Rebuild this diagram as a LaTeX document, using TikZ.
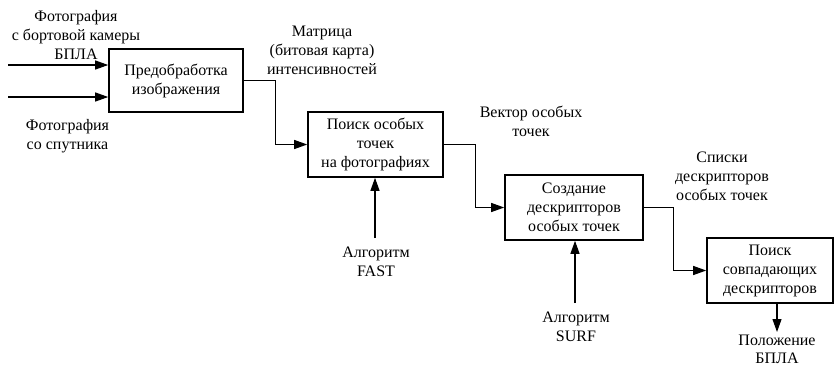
\documentclass[tikz,border=0pt]{standalone}
\usepackage{fontspec}
\setmainfont{Liberation Serif}
\usetikzlibrary{arrows.meta}
\begin{document}
\begin{tikzpicture}[x=1pt,y=-1pt,
  blk/.style={draw,line width=1.6pt,minimum height=65pt,align=center,inner sep=2pt,font=\fontsize{16}{19}\selectfont},
  lbl/.style={align=center,inner sep=0pt,font=\fontsize{16}{19}\selectfont},
  arr/.style={line width=1.1pt,-{Triangle[length=13pt,width=9pt]}},
  ln/.style={line width=1.1pt}]
\useasboundingbox (0,0) rectangle (837,365);
\node[blk,minimum width=134pt,minimum height=63pt] (b1) at (176,80.5) {Предобработка\\изображения};
\node[blk,minimum width=135pt] (b2) at (375.5,144.5) {Поиск особых\\точек\\на фотографиях};
\node[blk,minimum width=138pt] (b3) at (574,207.5) {Создание\\дескрипторов\\особых точек};
\node[blk,minimum width=126pt] (b4) at (770,270.5) {Поиск\\совпадающих\\дескрипторов};
\coordinate (in1) at (8,65);
\coordinate (in2) at (8,97);
\coordinate (fast) at (375,238);
\coordinate (surf) at (575,303);
\coordinate (out) at (777,332);
\draw[arr] (in1) -- (in1 -| b1.west);
\draw[arr] (in2) -- (in2 -| b1.west);
\draw[arr] (b1.east) -- ++(32,0) |- (b2.west);
\draw[arr] (b2.east) -- ++(32,0) |- (b3.west);
\draw[arr] (b3.east) -- ++(30,0) |- (b4.west);
\draw[arr] (fast) -- (fast |- b2.south);
\draw[arr] (surf) -- (surf |- b3.south);
\draw[arr] (out |- b4.south) -- (out);
\node[lbl] (t1) at (76,35) {Фотография\\с бортовой камеры\\БПЛА};
\node[lbl] (t2) at (67.5,136) {Фотография\\со спутника};
\node[lbl] (t3) at (322,50) {Матрица\\(битовая карта)\\интенсивностей};
\node[lbl] (t4) at (531,121) {Вектор особых\\точек};
\node[lbl] (t5) at (722,176.5) {Списки\\дескрипторов\\особых точек};
\node[lbl] (t6) at (376,262) {Алгоритм\\FAST};
\node[lbl] (t7) at (576,327) {Алгоритм\\SURF};
\node[lbl,font=\fontsize{16}{18}\selectfont] (t8) at (777,349) {Положение\\БПЛА};
\end{tikzpicture}
\end{document}
